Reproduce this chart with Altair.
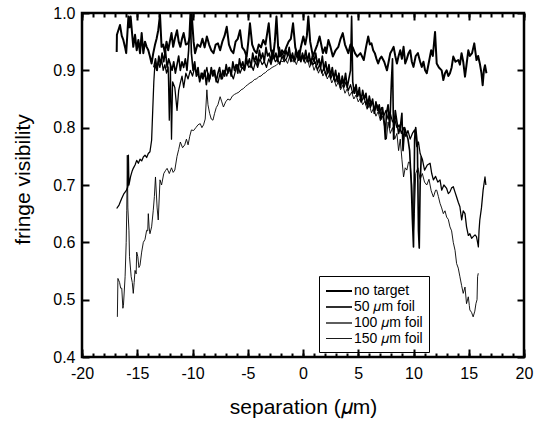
import altair as alt
import pandas as pd

series_names = ["no target", "50 𝜇m foil", "100 𝜇m foil", "150 𝜇m foil"]

# ---- no target ----
nt_x = [-16.86, -16.84, -16.56, -16.40, -16.26, -16.10, -16.00, -15.80, -15.70, -15.60,
        -15.36, -15.20, -15.05, -14.90, -14.75, -14.60, -14.45, -14.30, -14.15, -14.00,
        -13.85, -13.70, -13.55, -13.40, -13.25, -13.10, -12.94, -12.80, -12.65, -12.50,
        -12.35, -12.20, -12.05, -11.90, -11.75, -11.60, -11.40, -11.25, -11.10, -10.95,
        -10.80, -10.60, -10.40, -10.20, -10.07, -9.90, -9.77, -9.55, -9.30, -9.10,
        -8.90, -8.70, -8.50, -8.30, -8.10, -7.90, -7.70, -7.50, -7.30, -7.10,
        -6.90, -6.70, -6.50, -6.30, -6.10, -5.90, -5.70, -5.50, -5.30, -5.10,
        -4.95, -4.80, -4.60, -4.40, -4.20, -4.00, -3.80, -3.60, -3.40, -3.10,
        -2.90, -2.70, -2.55, -2.40, -2.25, -2.10, -1.90, -1.70, -1.50, -1.30,
        -1.10, -0.90, -0.70, -0.55, -0.40, -0.20, 0.03, 0.20, 0.35, 0.48,
        0.65, 0.90, 1.10, 1.30, 1.50, 1.65, 1.80, 2.00, 2.10, 2.30,
        2.50, 2.70, 2.95, 3.20, 3.40, 3.60, 3.80, 4.10, 4.30, 4.50,
        4.70, 4.90, 5.20, 5.50, 5.70, 5.90, 6.05, 6.20, 6.35, 6.50,
        6.65, 6.80, 6.95, 7.10, 7.35, 7.60, 7.75, 7.90, 8.05, 8.20,
        8.35, 8.50, 8.65, 8.80, 8.95, 9.10, 9.25, 9.40, 9.55, 9.70,
        9.85, 10.00, 10.20, 10.40, 10.60, 10.75, 10.90, 11.05, 11.20, 11.40,
        11.60, 11.75, 11.95, 12.10, 12.30, 12.55, 12.70, 12.85, 13.00, 13.15,
        13.30, 13.45, 13.60, 13.80, 14.05, 14.20, 14.35, 14.50, 14.66, 14.80,
        14.96, 15.10, 15.30, 15.50, 15.70, 15.85, 16.00, 16.15, 16.26, 16.37,
        16.47, 16.60]
nt_y = [0.932, 0.962, 0.979, 0.960, 0.953, 0.940, 0.930, 0.994, 0.975, 0.994,
        0.941, 0.962, 0.935, 0.953, 0.930, 0.965, 0.930, 0.950, 0.941, 0.935,
        0.924, 0.912, 0.930, 0.944, 0.955, 0.970, 0.997, 0.941, 0.945, 0.930,
        0.950, 0.935, 0.950, 0.965, 0.941, 0.955, 0.970, 0.950, 0.941, 0.955,
        0.965, 0.945, 0.947, 0.960, 0.997, 0.950, 0.930, 0.945, 0.941, 0.955,
        0.940, 0.959, 0.945, 0.935, 0.930, 0.945, 0.947, 0.935, 0.950, 0.960,
        0.976, 0.945, 0.935, 0.930, 0.950, 0.955, 0.970, 0.940, 0.935, 0.924,
        0.950, 0.982, 0.945, 0.935, 0.930, 0.945, 0.940, 0.953, 0.945, 0.982,
        0.935, 0.924, 0.950, 0.994, 0.940, 0.924, 0.935, 0.930, 0.941, 0.950,
        0.955, 0.982, 0.940, 0.930, 0.918, 0.940, 0.959, 0.945, 0.960, 0.994,
        0.950, 0.924, 0.935, 0.945, 0.959, 0.945, 0.930, 0.940, 0.930, 0.953,
        0.940, 0.924, 0.935, 0.941, 0.955, 0.965, 0.945, 0.930, 0.945, 0.940,
        0.930, 0.924, 0.930, 0.918, 0.940, 0.959, 0.945, 0.947, 0.935, 0.930,
        0.920, 0.912, 0.920, 0.924, 0.915, 0.900, 0.915, 0.930, 0.935, 0.941,
        0.925, 0.912, 0.925, 0.935, 0.920, 0.941, 0.912, 0.920, 0.930, 0.935,
        0.915, 0.906, 0.925, 0.930, 0.915, 0.906, 0.915, 0.900, 0.895, 0.915,
        0.935, 0.925, 0.967, 0.912, 0.905, 0.900, 0.883, 0.895, 0.900, 0.890,
        0.895, 0.905, 0.924, 0.915, 0.918, 0.910, 0.930, 0.915, 0.889, 0.910,
        0.935, 0.925, 0.930, 0.947, 0.918, 0.925, 0.912, 0.895, 0.874, 0.900,
        0.909, 0.895]

# ---- 50 um foil ----
f50_x = [-13.50, -13.35, -13.20, -13.05, -12.90, -12.75, -12.60, -12.45, -12.30, -12.15,
         -12.00, -11.85, -11.70, -11.55, -11.40, -11.25, -11.10, -10.95, -10.80, -10.65,
         -10.50, -10.35, -10.20, -10.10, -9.95, -9.80, -9.65, -9.50, -9.35, -9.20,
         -9.05, -8.90, -8.75, -8.60, -8.45, -8.30, -8.15, -8.00, -7.85, -7.70,
         -7.55, -7.40, -7.25, -7.10, -6.95, -6.80, -6.65, -6.50, -6.35, -6.20,
         -6.05, -5.90, -5.75, -5.60, -5.45, -5.30, -5.15, -5.00, -4.85, -4.70,
         -4.55, -4.40, -4.25, -4.10, -3.95, -3.80, -3.65, -3.50, -3.35, -3.20,
         -3.05, -2.90, -2.75, -2.60, -2.45, -2.30, -2.15, -2.00, -1.85, -1.70,
         -1.55, -1.40, -1.25, -1.10, -0.95, -0.80, -0.65, -0.50, -0.35, -0.20,
         -0.05, 0.10, 0.25, 0.40, 0.55, 0.70, 0.85, 1.00, 1.15, 1.30,
         1.45, 1.60, 1.75, 1.90, 2.05, 2.20, 2.35, 2.50, 2.65, 2.80,
         2.95, 3.10, 3.25, 3.40, 3.55, 3.70, 3.85, 4.00, 4.15, 4.30,
         4.40, 4.50, 4.65, 4.80, 4.95, 5.10, 5.25, 5.40, 5.55, 5.70,
         5.85, 6.00, 6.15, 6.30, 6.45, 6.60, 6.75, 6.90, 7.05, 7.20,
         7.35, 7.45, 7.55, 7.70, 7.85, 8.00, 8.10, 8.20, 8.35, 8.50,
         8.65, 8.80, 8.95, 9.05, 9.20, 9.35, 9.50, 9.65, 9.80, 9.90,
         10.00, 10.10, 10.20, 10.35, 10.45, 10.52, 10.60, 10.70]
f50_y = [0.905, 0.920, 0.900, 0.925, 0.910, 0.930, 0.915, 0.935, 0.905, 0.920,
         0.910, 0.900, 0.915, 0.895, 0.910, 0.925, 0.900, 0.915, 0.905, 0.920,
         0.900, 0.935, 1.000, 0.930, 0.900, 0.915, 0.890, 0.905, 0.880, 0.895,
         0.885, 0.900, 0.875, 0.895, 0.885, 0.905, 0.890, 0.900, 0.880, 0.895,
         0.905, 0.885, 0.900, 0.890, 0.910, 0.895, 0.905, 0.890, 0.915, 0.900,
         0.910, 0.895, 0.920, 0.905, 0.915, 0.900, 0.925, 0.910, 0.920, 0.905,
         0.930, 0.915, 0.925, 0.910, 0.935, 0.920, 0.930, 0.915, 0.940, 0.925,
         0.930, 0.915, 0.935, 0.920, 0.930, 0.915, 0.940, 0.925, 0.930, 0.920,
         0.935, 0.925, 0.940, 0.920, 0.930, 0.915, 0.935, 0.925, 0.935, 0.915,
         0.930, 0.920, 0.935, 0.915, 0.930, 0.910, 0.925, 0.915, 0.930, 0.910,
         0.920, 0.905, 0.925, 0.900, 0.915, 0.895, 0.910, 0.890, 0.905, 0.885,
         0.900, 0.880, 0.895, 0.870, 0.890, 0.875, 0.895, 0.870, 0.885, 0.900,
         0.994, 0.880, 0.860, 0.875, 0.855, 0.870, 0.845, 0.865, 0.850, 0.860,
         0.835, 0.855, 0.840, 0.850, 0.825, 0.845, 0.830, 0.840, 0.815, 0.835,
         0.810, 0.780, 0.825, 0.840, 0.800, 0.880, 0.920, 0.780, 0.830, 0.810,
         0.790, 0.800, 0.825, 0.760, 0.800, 0.790, 0.780, 0.760, 0.700, 0.640,
         0.592, 0.780, 0.800, 0.770, 0.620, 0.590, 0.700, 0.750]

# ---- 100 um foil ----
f100_x = [-16.86, -16.65, -16.40, -16.20, -16.00, -15.85, -15.80, -15.75, -15.60, -15.45,
          -15.36, -15.20, -15.05, -14.90, -14.75, -14.60, -14.45, -14.30, -14.15, -14.00,
          -13.85, -13.70, -13.60, -13.50, -13.40, -13.25, -13.10, -12.95, -12.80, -12.65,
          -12.50, -12.35, -12.20, -12.10, -12.00, -11.90, -11.80, -11.60, -11.40, -11.25,
          -11.10, -10.95, -10.80, -10.60, -10.40, -10.20, -10.00, -9.80, -9.60, -9.30,
          -9.10, -8.90, -8.70, -8.50, -8.30, -8.10, -7.90, -7.70, -7.50, -7.30,
          -7.10, -6.90, -6.70, -6.50, -6.30, -6.10, -5.90, -5.70, -5.50, -5.30,
          -5.10, -4.90, -4.70, -4.50, -4.30, -4.10, -3.90, -3.70, -3.50, -3.30,
          -3.10, -2.90, -2.70, -2.50, -2.30, -2.10, -1.90, -1.70, -1.50, -1.30,
          -1.10, -0.90, -0.70, -0.50, -0.30, -0.10, 0.10, 0.30, 0.50, 0.70,
          0.90, 1.10, 1.30, 1.50, 1.70, 1.90, 2.10, 2.30, 2.50, 2.70,
          2.90, 3.10, 3.30, 3.50, 3.70, 3.90, 4.10, 4.30, 4.50, 4.70,
          4.90, 5.10, 5.30, 5.50, 5.70, 5.90, 6.10, 6.30, 6.50, 6.70,
          6.90, 7.10, 7.30, 7.50, 7.70, 7.90, 8.10, 8.30, 8.50, 8.70,
          8.90, 9.10, 9.30, 9.50, 9.70, 9.90, 10.10, 10.30, 10.45, 10.60,
          10.80, 11.00, 11.25, 11.50, 11.65, 11.80, 12.00, 12.20, 12.40, 12.55,
          12.75, 13.00, 13.15, 13.30, 13.45, 13.60, 13.75, 13.90, 14.05, 14.20,
          14.36, 14.50, 14.66, 14.80, 14.96, 15.10, 15.26, 15.40, 15.57, 15.70,
          15.80, 15.87, 15.93, 16.00, 16.15, 16.30, 16.47, 16.55]
f100_y = [0.659, 0.665, 0.677, 0.685, 0.690, 0.697, 0.752, 0.700, 0.715, 0.725,
          0.729, 0.735, 0.743, 0.738, 0.745, 0.742, 0.749, 0.752, 0.748, 0.755,
          0.758, 0.778, 0.830, 0.880, 0.912, 0.900, 0.915, 0.905, 0.920, 0.900,
          0.910, 0.895, 0.906, 0.813, 0.910, 0.780, 0.880, 0.870, 0.830, 0.865,
          0.878, 0.890, 0.870, 0.895, 0.885, 0.900, 0.890, 0.905, 0.895, 0.883,
          0.895, 0.890, 0.905, 0.880, 0.895, 0.900, 0.885, 0.878, 0.895, 0.885,
          0.900, 0.890, 0.905, 0.895, 0.885, 0.900, 0.910, 0.895, 0.905, 0.900,
          0.915, 0.905, 0.910, 0.900, 0.915, 0.905, 0.920, 0.910, 0.915, 0.905,
          0.920, 0.910, 0.925, 0.915, 0.920, 0.910, 0.925, 0.915, 0.920, 0.930,
          0.915, 0.925, 0.918, 0.930, 0.920, 0.925, 0.915, 0.925, 0.915, 0.920,
          0.910, 0.915, 0.900, 0.910, 0.895, 0.905, 0.890, 0.900, 0.885, 0.895,
          0.880, 0.890, 0.875, 0.885, 0.870, 0.880, 0.865, 0.875, 0.860, 0.870,
          0.855, 0.860, 0.845, 0.855, 0.840, 0.850, 0.835, 0.845, 0.830, 0.840,
          0.825, 0.835, 0.820, 0.830, 0.815, 0.825, 0.810, 0.815, 0.800, 0.805,
          0.790, 0.800, 0.785, 0.795, 0.780, 0.790, 0.796, 0.767, 0.775, 0.755,
          0.745, 0.726, 0.735, 0.738, 0.720, 0.709, 0.715, 0.705, 0.709, 0.691,
          0.700, 0.694, 0.685, 0.688, 0.695, 0.697, 0.688, 0.679, 0.670, 0.662,
          0.639, 0.655, 0.650, 0.627, 0.612, 0.615, 0.607, 0.610, 0.613, 0.610,
          0.600, 0.592, 0.620, 0.639, 0.660, 0.691, 0.714, 0.700]

# ---- 150 um foil ----
f150_x = [-16.80, -16.75, -16.60, -16.50, -16.40, -16.30, -16.25, -16.10, -16.00, -15.95,
          -15.90, -15.85, -15.75, -15.70, -15.55, -15.45, -15.36, -15.28, -15.20, -15.10,
          -15.05, -14.95, -14.85, -14.75, -14.60, -14.45, -14.30, -14.15, -14.05, -14.00,
          -13.92, -13.85, -13.70, -13.55, -13.45, -13.35, -13.20, -13.10, -12.94, -12.80,
          -12.60, -12.45, -12.30, -12.10, -11.90, -11.75, -11.60, -11.40, -11.25, -11.10,
          -10.90, -10.70, -10.55, -10.40, -10.25, -10.10, -9.90, -9.70, -9.50, -9.30,
          -9.15, -9.00, -8.85, -8.70, -8.60, -8.45, -8.30, -8.15, -8.00, -7.85,
          -7.70, -7.50, -7.35, -7.20, -7.00, -6.80, -6.60, -6.40, -6.20, -6.00,
          -5.80, -5.60, -5.40, -5.20, -5.00, -4.80, -4.60, -4.40, -4.20, -4.00,
          -3.80, -3.60, -3.40, -3.20, -3.00, -2.80, -2.60, -2.40, -2.20, -2.00,
          -1.80, -1.60, -1.40, -1.20, -1.00, -0.80, -0.60, -0.40, -0.20, 0.00,
          0.20, 0.40, 0.60, 0.80, 1.00, 1.20, 1.40, 1.60, 1.80, 2.00,
          2.20, 2.40, 2.60, 2.80, 3.00, 3.20, 3.40, 3.60, 3.80, 4.00,
          4.20, 4.40, 4.60, 4.80, 5.00, 5.20, 5.40, 5.60, 5.80, 6.00,
          6.20, 6.40, 6.60, 6.80, 7.00, 7.20, 7.40, 7.55, 7.70, 7.90,
          8.10, 8.30, 8.50, 8.65, 8.80, 8.95, 9.10, 9.25, 9.40, 9.55,
          9.70, 9.85, 10.00, 10.08, 10.20, 10.40, 10.60, 10.80, 11.00, 11.20,
          11.40, 11.60, 11.80, 12.00, 12.10, 12.25, 12.40, 12.55, 12.70, 12.85,
          13.00, 13.15, 13.30, 13.45, 13.60, 13.76, 13.90, 14.05, 14.20, 14.35,
          14.50, 14.66, 14.80, 14.96, 15.05, 15.10, 15.25, 15.40, 15.55, 15.65,
          15.75, 15.80, 15.86]
f150_y = [0.470, 0.537, 0.530, 0.520, 0.520, 0.485, 0.490, 0.540, 0.600, 0.656,
          0.752, 0.660, 0.620, 0.575, 0.540, 0.530, 0.511, 0.530, 0.551, 0.545,
          0.583, 0.575, 0.556, 0.560, 0.583, 0.600, 0.605, 0.621, 0.620, 0.650,
          0.625, 0.615, 0.627, 0.656, 0.680, 0.714, 0.660, 0.639, 0.709, 0.700,
          0.720, 0.725, 0.729, 0.720, 0.730, 0.722, 0.726, 0.750, 0.762, 0.775,
          0.765, 0.770, 0.780, 0.770, 0.785, 0.796, 0.795, 0.800, 0.805, 0.807,
          0.800, 0.805, 0.815, 0.866, 0.840, 0.825, 0.815, 0.813, 0.825, 0.835,
          0.840, 0.854, 0.845, 0.836, 0.845, 0.850, 0.848, 0.855, 0.858, 0.860,
          0.862, 0.866, 0.868, 0.872, 0.875, 0.878, 0.880, 0.884, 0.885, 0.889,
          0.890, 0.894, 0.896, 0.900, 0.902, 0.905, 0.907, 0.909, 0.913, 0.916,
          0.915, 0.920, 0.912, 0.925, 0.915, 0.920, 0.910, 0.922, 0.915, 0.925,
          0.912, 0.920, 0.905, 0.915, 0.900, 0.910, 0.895, 0.905, 0.890, 0.898,
          0.885, 0.893, 0.878, 0.886, 0.872, 0.880, 0.866, 0.874, 0.860, 0.868,
          0.855, 0.862, 0.850, 0.857, 0.845, 0.852, 0.840, 0.846, 0.832, 0.840,
          0.826, 0.835, 0.820, 0.828, 0.812, 0.820, 0.800, 0.780, 0.810, 0.790,
          0.800, 0.780, 0.790, 0.760, 0.780, 0.745, 0.714, 0.730, 0.726, 0.740,
          0.738, 0.700, 0.620, 0.650, 0.720, 0.730, 0.710, 0.720, 0.705, 0.700,
          0.710, 0.690, 0.679, 0.691, 0.691, 0.680, 0.668, 0.660, 0.650, 0.655,
          0.644, 0.640, 0.627, 0.620, 0.600, 0.586, 0.563, 0.555, 0.540, 0.525,
          0.511, 0.522, 0.493, 0.505, 0.490, 0.482, 0.478, 0.470, 0.480, 0.493,
          0.500, 0.540, 0.546]

minor_x = list(range(-20, 21))
major_x = list(range(-20, 21, 5))
y_ticks = [0.4, 0.5, 0.6, 0.7, 0.8, 0.9, 1.0]

rows = []
for name, xs, ys in [(series_names[0], nt_x, nt_y), (series_names[1], f50_x, f50_y),
                     (series_names[2], f100_x, f100_y), (series_names[3], f150_x, f150_y)]:
    for xv, yv in zip(xs, ys):
        rows.append({"sep": xv, "vis": yv, "series": name})
df = pd.DataFrame(rows)

FONT = "Liberation Sans"
xscale = alt.Scale(domain=[-20, 20], nice=False, zero=False)
yscale = alt.Scale(domain=[0.4, 1.0], nice=False, zero=False)
sw = alt.StrokeWidth("series:N",
                     scale=alt.Scale(domain=series_names, range=[2.0, 0.9, 0.9, 0.9]),
                     legend=alt.Legend(title=None, orient="none", legendX=237, legendY=263,
                                       strokeColor="black", padding=6,
                                       symbolType="M-1,0H2.25", symbolSize=256,
                                       symbolStrokeColor="black", symbolFillColor="transparent",
                                       labelFont=FONT, labelFontSize=14, labelColor="black",
                                       labelOffset=11, rowPadding=0, labelLimit=200))

label_expr = "datum.value % 5 == 0 ? (datum.value < 0 ? '-' + abs(datum.value) : '' + datum.value) : ''"

common_axis = dict(grid=False, domain=False, tickColor="black", tickWidth=2,
                   labelFont=FONT, labelFontSize=16, labelColor="black",
                   titleFont=FONT, titleFontSize=21, titleFontWeight="normal",
                   titleColor="black")

base = alt.Chart(df)

foils = base.transform_filter(alt.datum.series != "no target").mark_line(
    color="black", clip=True, strokeJoin="round").encode(
    x=alt.X("sep:Q", scale=xscale,
            axis=alt.Axis(orient="bottom", values=minor_x, offset=-4, tickSize=4,
                          labelExpr=label_expr, labelOverlap=False, labelFlush=False,
                          labelPadding=8, title="separation (𝜇m)", titleY=43,
                          **common_axis)),
    y=alt.Y("vis:Q", scale=yscale,
            axis=alt.Axis(orient="left", values=y_ticks, offset=-7, tickSize=7, format=".1f",
                          labelOverlap=False, labelFlush=False, labelPadding=7,
                          title="fringe visibility", titleX=-56, titleY=166,
                          **common_axis)),
    strokeWidth=sw,
    detail="series:N",
)

notarget = base.transform_filter(alt.datum.series == "no target").mark_line(
    color="black", clip=True, strokeJoin="round").encode(
    x=alt.X("sep:Q", scale=xscale,
            axis=alt.Axis(orient="top", values=minor_x, offset=-4, tickSize=4,
                          labels=False, title=None, **common_axis)),
    y=alt.Y("vis:Q", scale=yscale,
            axis=alt.Axis(orient="right", values=y_ticks, offset=-7, tickSize=7,
                          labels=False, title=None, **common_axis)),
    strokeWidth=sw,
)

bottom_major = base.mark_point(opacity=0).encode(
    x=alt.X("sep:Q", scale=xscale,
            axis=alt.Axis(orient="bottom", values=major_x, offset=-8, tickSize=8,
                          labels=False, title=None, **common_axis)),
    y=alt.Y("vis:Q", scale=yscale, axis=None),
)

top_major = base.mark_point(opacity=0).encode(
    x=alt.X("sep:Q", scale=xscale,
            axis=alt.Axis(orient="top", values=major_x, offset=-7, tickSize=7,
                          labels=False, title=None, **common_axis)),
    y=alt.Y("vis:Q", scale=yscale, axis=None),
)

chart = alt.layer(foils, notarget, bottom_major, top_major).resolve_axis(
    x="independent", y="independent"
).properties(
    width=442, height=344,
    padding={"left": 82, "top": 13, "right": 14, "bottom": 64},
    autosize=alt.AutoSizeParams(type="none"),
    background="white",
).configure_view(
    stroke="black", strokeWidth=2.5
)

chart.save("out.html", embed_options={"renderer": "svg", "actions": False})
